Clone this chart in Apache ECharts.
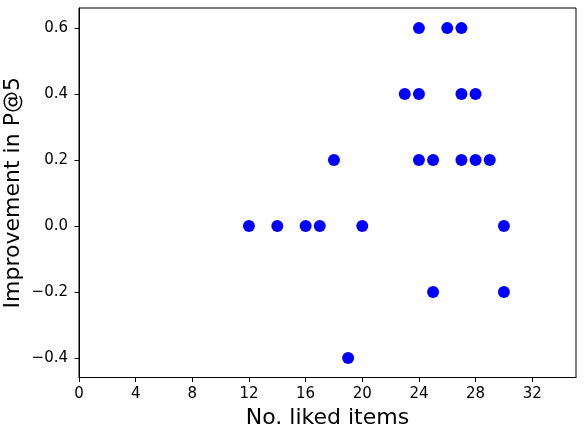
<!DOCTYPE html>
<html><head><meta charset="utf-8">
<script src="https://cdn.jsdelivr.net/npm/echarts@6/dist/echarts.min.js"></script>
<style>html,body{margin:0;padding:0;background:#fff}#c{width:587px;height:430px}</style>
</head><body><div id="c"></div>
<script>
const likedItems = [12,14,16,17,20,18,19,23,24,24,24,25,25,26,27,27,27,28,28,29,30,30];
const improvement = [0,0,0,0,0,0.2,-0.4,0.4,0.4,0.6,0.2,0.2,-0.2,0.6,0.6,0.4,0.2,0.4,0.2,0.2,0,-0.2];
const xTicks = [0,4,8,12,16,20,24,28,32];
const yTicks = [-0.4,-0.2,0,0.2,0.4,0.6];
const data = likedItems.map((x,i)=>[x,improvement[i]]);
const font = 'DejaVu Sans';
const chart = echarts.init(document.getElementById('c'));
chart.setOption({
  animation:false,
  backgroundColor:'#fff',
  grid:{left:79,top:8,right:11,bottom:52.5,show:true,borderColor:'#000',borderWidth:1,containLabel:false,outerBoundsMode:'none'},
  xAxis:{type:'value',min:0,max:35.09,
    name:'No. liked items',nameLocation:'middle',nameGap:30,nameMoveOverlap:false,
    nameTextStyle:{fontFamily:font,fontSize:22,color:'#000'},
    axisLine:{show:true,onZero:false,lineStyle:{color:'#000',width:1}},
    axisTick:{show:true,length:4.5,customValues:xTicks,lineStyle:{color:'#000'}},
    axisLabel:{customValues:xTicks,fontFamily:font,fontSize:15,color:'#000',margin:9},
    splitLine:{show:false}},
  yAxis:{type:'value',min:-0.459,max:0.661,
    name:'Improvement in P@5',nameLocation:'middle',nameGap:55,nameMoveOverlap:false,
    nameTextStyle:{fontFamily:font,fontSize:22,color:'#000'},
    axisLine:{show:true,onZero:false,lineStyle:{color:'#000',width:1}},
    axisTick:{show:true,length:4.5,customValues:yTicks,lineStyle:{color:'#000'}},
    axisLabel:{customValues:yTicks,fontFamily:font,fontSize:15,color:'#000',margin:11,
      formatter:v=>(v<0?'\u2212':'')+Math.abs(v).toFixed(1)},
    splitLine:{show:false}},
  series:[{type:'scatter',data:data,symbol:'circle',symbolSize:12,itemStyle:{color:'#0000ff',opacity:1}}]
});
</script></body></html>
